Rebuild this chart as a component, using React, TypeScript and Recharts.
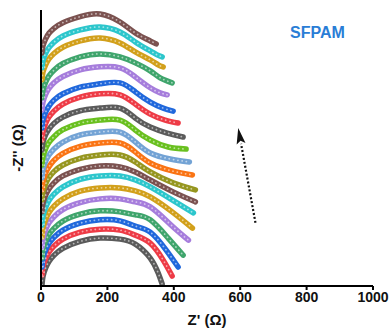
import { LineChart, Line, XAxis, YAxis, ReferenceLine } from "recharts";

// Z' (Ω) and -Z'' (Ω, curves stacked upward), bottom curve first
const re01 = [3, 6, 14, 24, 39, 66, 118, 178, 238, 284, 329, 353, 365];
const im01 = [3, 29, 54, 74, 92, 113, 134, 144, 141, 126, 84, 39, 6];
const re02 = [3, 6, 14, 24, 39, 66, 118, 178, 238, 284, 329, 368, 395];
const im02 = [33, 58, 83, 102, 120, 141, 162, 171, 168, 153, 129, 78, 30];
const re03 = [3, 6, 14, 24, 39, 66, 118, 178, 238, 284, 329, 377, 413];
const im03 = [57, 83, 108, 128, 146, 168, 189, 199, 196, 180, 162, 108, 57];
const re04 = [3, 6, 14, 24, 39, 66, 118, 178, 238, 284, 329, 383, 428];
const im04 = [84, 110, 135, 155, 173, 195, 216, 226, 223, 214, 199, 144, 93];
const re05 = [3, 6, 14, 24, 39, 66, 118, 178, 238, 284, 329, 389, 444];
const im05 = [117, 143, 169, 190, 208, 230, 251, 262, 262, 253, 238, 186, 138];
const re06 = [3, 6, 14, 24, 39, 66, 118, 178, 238, 284, 329, 395, 456];
const im06 = [147, 174, 200, 221, 240, 262, 285, 295, 295, 286, 268, 223, 174];
const re07 = [3, 6, 14, 24, 39, 66, 118, 178, 238, 284, 329, 395, 459];
const im07 = [183, 210, 236, 257, 276, 298, 321, 331, 331, 319, 298, 259, 220];
const re08 = [3, 6, 14, 24, 39, 66, 118, 178, 238, 284, 329, 398, 465];
const im08 = [223, 248, 273, 292, 310, 331, 351, 361, 358, 343, 319, 283, 253];
const re09 = [3, 6, 14, 24, 39, 66, 118, 178, 238, 284, 329, 398, 465];
const im09 = [259, 283, 307, 326, 344, 364, 384, 394, 394, 373, 343, 310, 289];
const re10 = [3, 6, 14, 24, 39, 66, 118, 178, 238, 284, 329, 395, 456];
const im10 = [289, 314, 340, 359, 378, 399, 420, 430, 430, 403, 370, 346, 334];
const re11 = [3, 6, 14, 24, 39, 66, 118, 178, 238, 284, 329, 389, 447];
const im11 = [325, 350, 375, 394, 412, 433, 454, 463, 463, 433, 400, 382, 373];
const re12 = [3, 6, 14, 24, 39, 66, 118, 178, 238, 284, 329, 383, 437];
const im12 = [364, 388, 413, 432, 449, 470, 490, 499, 499, 469, 439, 418, 412];
const re13 = [3, 6, 14, 24, 39, 66, 118, 178, 238, 284, 329, 380, 428];
const im13 = [409, 432, 455, 472, 489, 508, 527, 535, 535, 505, 478, 460, 448];
const re14 = [3, 6, 14, 24, 39, 66, 118, 178, 238, 284, 329, 374, 413];
const im14 = [439, 464, 489, 508, 526, 547, 568, 578, 575, 547, 517, 499, 490];
const re15 = [3, 6, 14, 24, 39, 66, 118, 178, 238, 284, 329, 368, 398];
const im15 = [475, 499, 523, 541, 559, 578, 598, 608, 611, 584, 553, 535, 526];
const re16 = [3, 6, 14, 24, 39, 66, 118, 178, 238, 284, 329, 359, 380];
const im16 = [529, 553, 576, 594, 611, 630, 650, 659, 656, 629, 596, 581, 575];
const re17 = [3, 6, 14, 24, 39, 66, 118, 178, 238, 284, 329, 359, 395];
const im17 = [566, 589, 613, 632, 649, 669, 689, 698, 689, 671, 647, 626, 611];
const re18 = [3, 6, 14, 24, 39, 66, 118, 178, 238, 284, 329, 353, 368];
const im18 = [620, 643, 665, 683, 699, 718, 737, 746, 731, 704, 680, 665, 659];
const re19 = [3, 6, 14, 24, 39, 66, 118, 178, 238, 284, 329, 350, 365];
const im19 = [656, 678, 700, 717, 733, 752, 770, 779, 764, 734, 707, 695, 689];
const re20 = [3, 6, 14, 24, 39, 66, 118, 178, 238, 284, 329, 347];
const im20 = [701, 722, 743, 760, 775, 792, 810, 818, 794, 761, 737, 728];

const curveColors = [
  "#5b5b5b", "#ee3b46", "#2068dc", "#3fa56c", "#a67ddc",
  "#d2a01b", "#2cc6cc", "#7b5250", "#96961f", "#fa7414",
  "#73a3d5", "#69c01f", "#5b5b5b", "#ee3b46", "#2068dc",
  "#a67ddc", "#3fa56c", "#d2a01b", "#2cc6cc", "#7b5250",
];

const xTicks = [0, 200, 400, 600, 800, 1000];
const arrowTail = { x: 646, y: 190 };
const arrowTip = { x: 594, y: 475 };

const curves = [
  [re01, im01], [re02, im02], [re03, im03], [re04, im04], [re05, im05],
  [re06, im06], [re07, im07], [re08, im08], [re09, im09], [re10, im10],
  [re11, im11], [re12, im12], [re13, im13], [re14, im14], [re15, im15],
  [re16, im16], [re17, im17], [re18, im18], [re19, im19], [re20, im20],
].map(([re, im]) => re.map((x, i) => ({ x, y: im[i] })));

const font = "Arial, 'Liberation Sans', sans-serif";

function Arrow(props: any) {
  const { x1, y1, x2, y2 } = props;
  const dx = x2 - x1;
  const dy = y2 - y1;
  const len = Math.sqrt(dx * dx + dy * dy);
  const ux = dx / len;
  const uy = dy / len;
  const headLen = 16;
  const bx = x2 - ux * headLen;
  const by = y2 - uy * headLen;
  const w = 4.5;
  return (
    <g>
      <line x1={x1} y1={y1} x2={bx} y2={by} stroke="#111" strokeWidth={2.2} strokeDasharray="2 2" />
      <polygon
        points={`${x2},${y2} ${bx - uy * w},${by + ux * w} ${bx + ux * 3},${by + uy * 3} ${bx + uy * w},${by - ux * w}`}
        fill="#111"
      />
    </g>
  );
}

export default function App() {
  return (
    <div style={{ position: "absolute", left: 0, top: 0, width: 390, height: 334, background: "#fff" }}>
      <LineChart width={390} height={334} margin={{ top: 10, right: 17, bottom: 0, left: 0 }}>
        <XAxis
          type="number"
          dataKey="x"
          domain={[0, 1000]}
          ticks={xTicks}
          allowDataOverflow
          height={48}
          tickSize={4}
          tickLine={{ stroke: "#000", strokeWidth: 2 }}
          axisLine={{ stroke: "#000", strokeWidth: 2 }}
          tick={{ fill: "#111", fontSize: 14, fontWeight: 700, fontFamily: font }}
          label={{ value: "Z' (Ω)", position: "insideBottom", offset: 9, fill: "#111", fontSize: 15, fontWeight: 700, fontFamily: font }}
        />
        <XAxis xAxisId="top" orientation="top" type="number" domain={[0, 1000]} height={0} tick={false} tickLine={false} axisLine={{ stroke: "#000", strokeWidth: 2 }} />
        <YAxis
          type="number"
          domain={[0, 830]}
          allowDataOverflow
          width={41}
          tick={false}
          tickLine={false}
          axisLine={{ stroke: "#000", strokeWidth: 2 }}
          label={{ value: "-Z'' (Ω)", angle: -90, position: "center", dx: -3, fill: "#111", fontSize: 15, fontWeight: 700, fontFamily: font }}
        />
        <YAxis yAxisId="right" orientation="right" type="number" domain={[0, 1]} width={0} tick={false} tickLine={false} axisLine={{ stroke: "#000", strokeWidth: 2 }} />
        {curves.map((d, i) => (
          <Line
            key={"c" + i}
            data={d}
            dataKey="y"
            type="natural"
            stroke={curveColors[i]}
            strokeWidth={5.5}
            strokeLinecap="round"
            dot={false}
            isAnimationActive={false}
          />
        ))}
        {curves.map((d, i) => (
          <Line
            key={"b" + i}
            data={d}
            dataKey="y"
            type="natural"
            stroke="rgba(255,255,255,0.55)"
            strokeWidth={1.8}
            strokeDasharray="0.1 4.2"
            strokeLinecap="round"
            dot={false}
            isAnimationActive={false}
          />
        ))}
        <ReferenceLine segment={[arrowTail, arrowTip]} ifOverflow="visible" shape={Arrow} />
      </LineChart>
      <div
        style={{
          position: "absolute",
          left: 290,
          top: 24,
          fontFamily: font,
          fontWeight: 700,
          fontSize: 16,
          color: "#2a7dd6",
        }}
      >
        SFPAM
      </div>
    </div>
  );
}
